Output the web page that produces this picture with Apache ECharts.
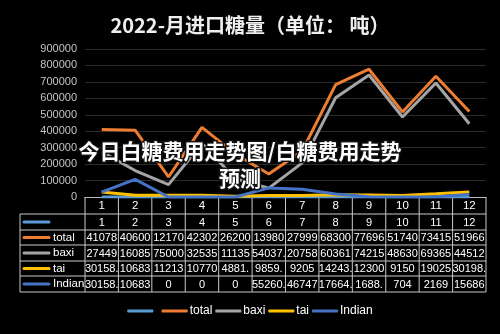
<!DOCTYPE html>
<html>
<head>
<meta charset="utf-8">
<script src="https://cdn.jsdelivr.net/npm/echarts@6/dist/echarts.min.js"></script>
<style>
html, body { margin: 0; padding: 0; background: #000; }
#main { width: 500px; height: 334px; }
</style>
</head>
<body>
<div id="main"></div>
<script>
// 数据
var months = ['1', '2', '3', '4', '5', '6', '7', '8', '9', '10', '11', '12'];
var names = [' ', 'total', 'baxi', 'tai', 'Indian'];
var colors = ['#5B9BD5', '#ED7D31', '#A5A5A5', '#FFC000', '#4472C4'];
var blank = [1, 2, 3, 4, 5, 6, 7, 8, 9, 10, 11, 12];
var total = [410780, 406000, 121700, 423020, 262000, 139800, 279990, 683000, 776960, 517400, 734150, 519660];
var baxi = [274490, 160850, 75000, 325350, 111350, 54037.5, 207580, 603610, 742150, 486300, 693650, 445120];
var tai = [30158.5, 10683, 11213, 10770, 4881.5, 9859.5, 9205, 14243.5, 12300, 9150, 19025, 30198.5];
var indian = [30158.5, 106830, 0, 0, 0, 55260.5, 46747, 17664.5, 1688.5, 704, 2169, 15686];
var allData = [blank, total, baxi, tai, indian];

// 表格里的数字被单元格截断
function cellText(v) {
    var s = String(v);
    if (s.indexOf('.') >= 0) {
        var ip = s.split('.')[0];
        return ip.length <= 5 ? ip.slice(0, 5) + '.' : ip.slice(0, 5);
    }
    return s.slice(0, 5);
}

var seriesList = [];
for (var i = 0; i < names.length; i++) {
    seriesList.push({
        name: names[i],
        type: 'line',
        data: allData[i],
        symbol: 'none',
        lineStyle: { width: 3, color: colors[i] },
        itemStyle: { color: colors[i] }
    });
}

var myChart = echarts.init(document.getElementById('main'));
var option = {
    backgroundColor: '#000',
    animation: false,
    title: {
        text: '2022-月进口糖量（单位： 吨）',
        left: 'center',
        top: 10,
        textStyle: { color: '#eee', fontSize: 20, fontWeight: 'bold', fontFamily: 'Noto Sans CJK SC' }
    },
    legend: {
        data: names,
        bottom: 12,
        left: 'center',
        icon: 'roundRect',
        itemWidth: 26,
        itemHeight: 3,
        itemGap: 3,
        textStyle: { color: '#fff', fontSize: 12, fontFamily: 'Liberation Sans', padding: [0, 0, 0, -3] }
    },
    grid: { left: 85, right: 14, top: 49, bottom: 137 },
    xAxis: {
        type: 'category',
        data: months,
        boundaryGap: true,
        axisLine: { lineStyle: { color: '#bbb', width: 1 } },
        axisTick: { show: false },
        axisLabel: { color: '#fff', fontSize: 11.5, margin: 3, fontFamily: 'Liberation Sans' }
    },
    yAxis: {
        type: 'value',
        min: 0,
        max: 900000,
        interval: 100000,
        axisLine: { show: false },
        axisTick: { show: false },
        axisLabel: { color: '#c4c4c4', fontSize: 11, margin: 8, fontFamily: 'Liberation Sans',
            formatter: function (v) { return String(v); } },
        splitLine: { lineStyle: { color: '#2b2b2b', width: 1 } }
    },
    series: seriesList
};
myChart.setOption(option);

// 数据表
var cx0 = myChart.convertToPixel({ xAxisIndex: 0 }, months[0]);
var cx1 = myChart.convertToPixel({ xAxisIndex: 0 }, months[1]);
var cw = cx1 - cx0;
var left = cx0 - cw / 2;
var right = left + cw * months.length;
var rowY = [197, 214, 230, 245, 261, 276, 292];
var lineColor = '#c8c8c8';
var els = [];

function hline(x1, x2, y) {
    els.push({ type: 'line', shape: { x1: x1, y1: y, x2: x2, y2: y }, style: { stroke: lineColor, lineWidth: 1 } });
}
function vline(x, y1, y2) {
    els.push({ type: 'line', shape: { x1: x, y1: y1, x2: x, y2: y2 }, style: { stroke: lineColor, lineWidth: 1 } });
}

for (var r = 1; r < rowY.length; r++) hline(20, right, rowY[r]);
vline(20, rowY[1], rowY[6]);
for (var c = 0; c <= months.length; c++) vline(left + c * cw, rowY[0], rowY[6]);

for (var s = 0; s < names.length; s++) {
    var yc = (rowY[s + 1] + rowY[s + 2]) / 2;
    els.push({ type: 'line', shape: { x1: 24, y1: yc, x2: 49, y2: yc },
        style: { stroke: colors[s], lineWidth: 3, lineCap: 'round' } });
    els.push({ type: 'text', x: 53, y: yc,
        style: { text: names[s], fill: '#fff', font: '11.5px Liberation Sans', align: 'left', verticalAlign: 'middle' } });
    for (var m = 0; m < months.length; m++) {
        var cx = myChart.convertToPixel({ xAxisIndex: 0 }, months[m]);
        els.push({ type: 'text', x: cx, y: yc + 0.5,
            style: { text: cellText(allData[s][m]), fill: '#fff', font: '11px Liberation Sans', align: 'center', verticalAlign: 'middle' } });
    }
}

// 叠加的文字
els.push({ type: 'text', x: 240, y: 165, z: 100,
    style: { text: '今日白糖费用走势图/白糖费用走势\n预测', fill: '#fff', stroke: '#111', lineWidth: 3,
        font: 'bold 21px Noto Sans CJK SC', lineHeight: 27, align: 'center', verticalAlign: 'middle' } });

myChart.setOption({ graphic: { elements: els } });
</script>
</body>
</html>
